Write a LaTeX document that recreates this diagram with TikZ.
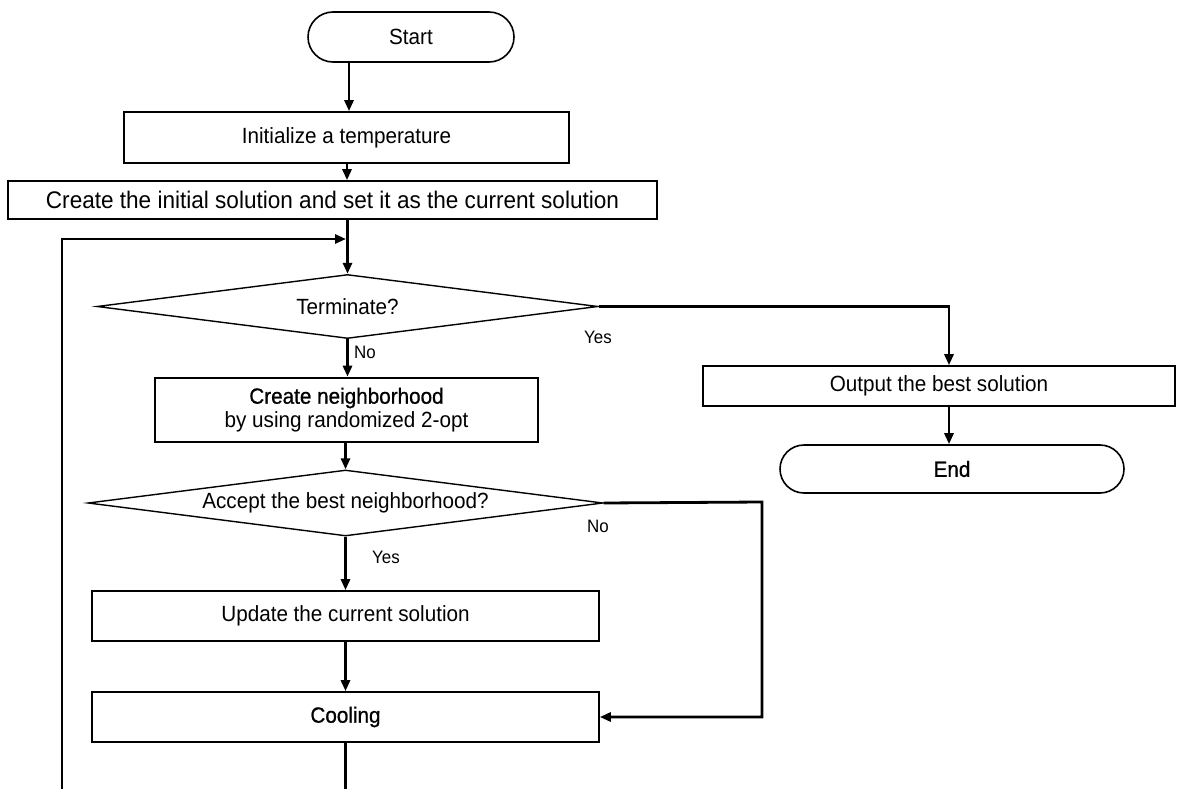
\documentclass[tikz,border=0pt]{standalone}
\usepackage{fontspec}
\setmainfont{Liberation Sans}[FakeStretch=0.94]
\newfontfamily\heavyfont{Liberation Sans}[FakeStretch=0.94, FakeBold=0.8]
\usetikzlibrary{positioning, shapes.geometric, shapes.misc, arrows.meta}
\tikzset{
  box/.style={draw, line width=1.6pt, inner sep=0pt, font=\fontsize{22}{24}\selectfont},
  term/.style={box, rounded rectangle},
  decision/.style={draw, diamond, line width=1.4pt, inner sep=0pt, font=\fontsize{22}{24}\selectfont},
  flow/.style={line width=2.8pt, -{Triangle[length=11pt, width=9pt]}},
  link/.style={line width=2.8pt},
  lbl/.style={font=\fontsize{18}{20}\selectfont, inner sep=0pt},
}

\begin{document}
\begin{tikzpicture}[x=1pt, y=-1pt]
\useasboundingbox (0,0) rectangle (1185,789);

% main column
\node[term, minimum width=206pt, minimum height=50pt] (start) at (411,37) {Start};
\node[box, minimum width=445pt, minimum height=51pt] (init) at (346.5,137.5) {Initialize a temperature};
\node[box, minimum width=649pt, minimum height=38pt, font=\fontsize{24}{26}\selectfont] (initsol) at (332.5,200) {Create the initial solution and set it as the current solution};
\node[decision, aspect=7.8, minimum width=501pt, minimum height=64pt] (term) at (347.5,306.5) {Terminate?};
\node[box, line width=2.6pt, minimum width=383pt, minimum height=64pt, align=center] (neigh) at (346.5,410) {{\heavyfont Create neighborhood}\\by using randomized 2-opt};
\node[decision, aspect=7.8, minimum width=515pt, minimum height=66pt] (accept) at (345.5,503) {Accept the best neighborhood?};
\node[box, minimum width=507pt, minimum height=50pt] (update) at (345.5,616) {Update the current solution};
\node[box, minimum width=507pt, minimum height=50pt] (cool) at (345.5,717) {\heavyfont Cooling};

% right column
\node[box, minimum width=472pt, minimum height=40pt] (output) at (939,386) {Output the best solution};
\node[term, minimum width=344pt, minimum height=48pt] (finish) at (952,469) {\heavyfont End};

% free ends
\coordinate (loopbot) at (62,789);
\coordinate (loopin) at (346,239);
\coordinate (noturn) at (762,502);

% connectors
\draw[flow] (start.south -| 349,0) -- (init.north -| 349,0);
\draw[flow] (init.south -| 347,0) -- (initsol.north -| 347,0);
\draw[flow] (initsol.south -| term.north) -- (term.north);
\draw[flow] (loopbot) -- (loopbot |- loopin) -- (loopin);
\draw[flow] (term.south) -- (neigh.north -| term.south);
\draw[flow] (term.east) -| (output.north -| 949,0);
\draw[flow] (output.south -| 949,0) -- (finish.north -| 949,0);
\draw[flow] (neigh.south -| accept.north) -- (accept.north);
\draw[flow] (accept.south) -- (update.north);
\draw[flow] (update.south) -- (cool.north);
\draw[flow] (accept.east) -- (noturn) |- (cool.east);
\draw[link] (cool.south) -- (cool.south |- loopbot);

% branch labels
\node[lbl] (tyes) at (598,337) {Yes};
\node[lbl] (tno) at (365,352) {No};
\node[lbl] (ano) at (598,526) {No};
\node[lbl] (ayes) at (386,557) {Yes};
\end{tikzpicture}
\end{document}
